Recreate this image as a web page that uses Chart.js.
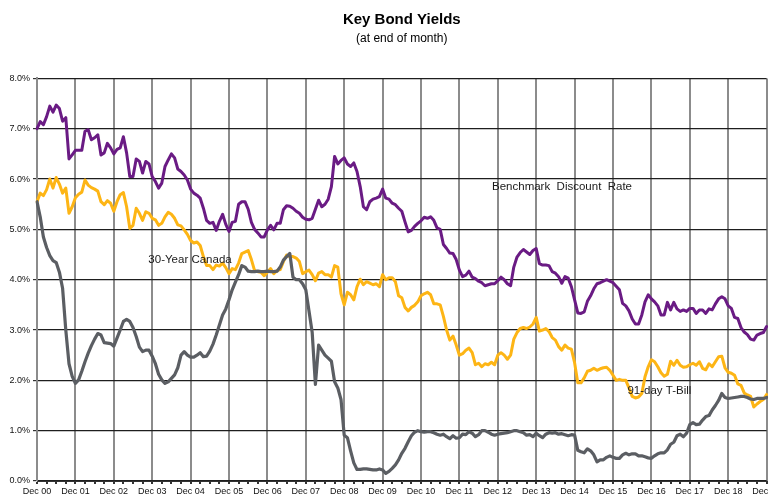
<!DOCTYPE html>
<html><head><meta charset="utf-8">
<script src="https://cdn.jsdelivr.net/npm/chart.js@4.4.1/dist/chart.umd.min.js"></script>
<style>html,body{margin:0;padding:0;background:#fff;}#wrap{width:770px;height:496px;}</style>
</head><body><div id="wrap"><canvas id="c" width="770" height="496"></canvas></div>
<script>
// Month-end observations, Dec 2000 .. Dec 2019 (one row per calendar year after Dec 00)
const yearTickLabels = ['Dec 00','Dec 01','Dec 02','Dec 03','Dec 04','Dec 05','Dec 06','Dec 07','Dec 08','Dec 09',
  'Dec 10','Dec 11','Dec 12','Dec 13','Dec 14','Dec 15','Dec 16','Dec 17','Dec 18','Dec 19'];
const monthNames = ['Jan','Feb','Mar','Apr','May','Jun','Jul','Aug','Sep','Oct','Nov','Dec'];
const yTickValues = [0,1,2,3,4,5,6,7,8];

const benchmark = [7.00,
  7.14,7.08,7.24,7.45,7.33,7.47,7.40,7.15,7.22,6.40,6.48,6.57,
  6.57,6.57,6.95,6.98,6.78,6.82,6.88,6.48,6.52,6.71,6.62,6.50,
  6.59,6.62,6.84,6.52,6.05,6.05,6.40,6.35,6.12,6.35,6.30,6.05,
  5.95,5.82,5.92,6.25,6.38,6.50,6.42,6.20,6.15,6.08,5.98,5.80,
  5.72,5.68,5.62,5.42,5.18,5.12,5.14,4.98,5.16,5.30,5.10,4.96,
  5.14,5.16,5.50,5.55,5.55,5.40,5.14,5.00,4.93,4.85,4.85,4.99,
  5.08,4.99,5.12,5.12,5.39,5.47,5.46,5.42,5.36,5.32,5.24,5.20,
  5.19,5.22,5.40,5.58,5.45,5.50,5.60,5.85,6.45,6.30,6.37,6.42,
  6.30,6.25,6.32,6.15,5.85,5.45,5.39,5.55,5.60,5.62,5.65,5.80,
  5.62,5.60,5.52,5.49,5.42,5.36,5.15,4.95,4.98,5.06,5.12,5.17,
  5.24,5.22,5.25,5.18,5.03,5.00,4.70,4.62,4.53,4.52,4.40,4.19,
  4.06,4.09,4.17,4.05,4.02,3.97,3.94,3.88,3.90,3.92,3.92,3.98,
  4.05,4.00,3.92,3.88,4.25,4.45,4.54,4.60,4.55,4.50,4.58,4.62,
  4.32,4.29,4.29,4.28,4.16,4.13,4.06,3.93,4.06,4.03,3.86,3.60,
  3.34,3.33,3.36,3.57,3.68,3.82,3.92,3.94,3.97,4.00,3.97,3.94,
  3.87,3.80,3.53,3.48,3.38,3.22,3.12,3.12,3.30,3.56,3.70,3.62,
  3.56,3.48,3.30,3.30,3.55,3.40,3.55,3.42,3.37,3.40,3.37,3.43,
  3.43,3.33,3.40,3.40,3.33,3.42,3.40,3.52,3.62,3.66,3.62,3.48,
  3.43,3.25,3.23,3.05,2.96,2.91,2.82,2.80,2.90,2.93,2.95,3.07];

const canada30 = [5.55,
  5.72,5.67,5.79,6.00,5.82,6.03,5.90,5.72,5.82,5.32,5.45,5.63,
  5.70,5.74,5.98,5.88,5.83,5.80,5.76,5.55,5.49,5.57,5.52,5.36,
  5.55,5.69,5.73,5.45,5.02,5.08,5.42,5.32,5.18,5.35,5.32,5.22,
  5.19,5.08,5.12,5.25,5.34,5.30,5.22,5.09,5.07,4.99,4.90,4.78,
  4.73,4.75,4.68,4.46,4.28,4.28,4.20,4.29,4.27,4.33,4.24,4.12,
  4.22,4.20,4.33,4.52,4.55,4.58,4.40,4.18,4.16,4.15,4.08,4.15,
  4.22,4.12,4.18,4.20,4.36,4.49,4.46,4.46,4.43,4.36,4.12,4.16,
  4.19,4.10,3.98,4.13,4.16,4.10,4.10,4.05,4.28,4.25,3.72,3.50,
  3.75,3.70,3.60,3.86,4.01,3.90,3.96,3.93,3.90,3.92,3.86,4.10,
  4.00,4.04,4.04,3.96,3.68,3.64,3.45,3.38,3.45,3.49,3.56,3.68,
  3.72,3.75,3.70,3.52,3.52,3.50,3.27,3.00,2.80,2.88,2.70,2.50,
  2.53,2.60,2.64,2.55,2.31,2.34,2.27,2.33,2.31,2.36,2.31,2.50,
  2.55,2.50,2.42,2.50,2.82,2.95,3.03,3.05,3.03,3.06,3.12,3.25,
  2.98,3.00,3.03,2.97,2.85,2.80,2.67,2.60,2.70,2.64,2.62,2.35,
  1.95,1.95,2.05,2.18,2.20,2.24,2.20,2.23,2.25,2.26,2.20,2.10,
  2.00,2.02,2.00,2.00,1.85,1.68,1.65,1.67,1.74,2.07,2.27,2.41,
  2.37,2.27,2.15,2.08,2.12,2.38,2.30,2.40,2.30,2.26,2.27,2.31,
  2.34,2.30,2.37,2.24,2.21,2.33,2.27,2.37,2.47,2.48,2.25,2.16,
  2.14,2.10,1.93,1.90,1.75,1.71,1.68,1.47,1.53,1.58,1.62,1.72];

const tbill91 = [5.55,
  5.25,4.85,4.64,4.48,4.38,4.34,4.15,3.83,3.00,2.33,2.08,1.94,
  2.01,2.18,2.37,2.54,2.69,2.82,2.93,2.90,2.75,2.74,2.73,2.68,
  2.84,3.00,3.17,3.21,3.17,3.05,2.87,2.66,2.57,2.60,2.60,2.48,
  2.33,2.12,2.01,1.94,1.97,2.04,2.11,2.25,2.50,2.57,2.50,2.46,
  2.46,2.50,2.55,2.47,2.48,2.58,2.72,2.90,3.10,3.30,3.42,3.60,
  3.80,3.95,4.10,4.28,4.25,4.17,4.16,4.16,4.17,4.16,4.16,4.17,
  4.16,4.16,4.17,4.25,4.39,4.46,4.52,4.05,4.00,4.00,3.92,3.80,
  3.38,2.95,1.92,2.70,2.60,2.50,2.44,2.38,1.97,1.85,1.62,0.91,
  0.86,0.60,0.36,0.23,0.23,0.24,0.24,0.23,0.22,0.22,0.24,0.22,
  0.15,0.19,0.25,0.32,0.42,0.55,0.65,0.78,0.90,0.97,1.00,0.98,
  0.97,0.98,0.98,0.96,0.93,0.91,0.93,0.88,0.84,0.90,0.85,0.86,
  0.93,0.92,0.98,0.95,0.88,0.92,1.00,1.00,0.97,0.93,0.91,0.93,
  0.94,0.95,0.96,0.98,1.00,1.00,0.98,0.96,0.91,0.92,0.88,0.95,
  0.90,0.86,0.93,0.96,0.95,0.96,0.93,0.94,0.92,0.90,0.92,0.91,
  0.61,0.58,0.56,0.64,0.60,0.52,0.38,0.42,0.42,0.47,0.50,0.47,
  0.45,0.45,0.52,0.55,0.52,0.54,0.54,0.50,0.50,0.48,0.46,0.45,
  0.50,0.54,0.56,0.56,0.62,0.73,0.77,0.90,0.93,0.88,0.95,1.12,
  1.16,1.12,1.13,1.21,1.28,1.30,1.41,1.50,1.60,1.74,1.66,1.64,
  1.65,1.66,1.67,1.68,1.68,1.66,1.63,1.62,1.64,1.64,1.64,1.66];

const seriesNames = ['Benchmark Discount Rate','30-Year Canada','91-day T-Bill'];
const seriesColors = ['#6a1b84','#fdb515','#5b5e63'];
// in-chart series labels, placed in data space (month index, yield %)
const seriesTags = [
  {text: 'Benchmark  Discount  Rate', index: 142.2, value: 5.85},
  {text: '30-Year Canada', index: 34.8, value: 4.40},
  {text: '91-day T-Bill', index: 184.5, value: 1.80}
];

// categories: month-end labels
const categories = [];
for (let i = 0; i < benchmark.length; i++) {
  const mIdx = (11 + i) % 12;
  const yr = 2000 + Math.floor((11 + i) / 12);
  categories.push(monthNames[mIdx] + ' ' + String(yr % 100).padStart(2, '0'));
}

const FONT = "'Liberation Sans', Arial, sans-serif";

const tagPlugin = {
  id: 'tags',
  afterDatasetsDraw(chart) {
    const {ctx, scales} = chart;
    ctx.save();
    ctx.font = '11.5px ' + FONT;
    ctx.fillStyle = '#1a1a1a';
    ctx.textAlign = 'left';
    ctx.textBaseline = 'middle';
    seriesTags.forEach(t => {
      ctx.fillText(t.text, scales.x.getPixelForValue(t.index), scales.y.getPixelForValue(t.value));
    });
    ctx.restore();
  }
};

new Chart(document.getElementById('c'), {
  type: 'line',
  data: {
    labels: categories,
    datasets: [
      {label: seriesNames[2], data: tbill91, borderColor: seriesColors[2], borderWidth: 3.2, order: 0},
      {label: seriesNames[1], data: canada30, borderColor: seriesColors[1], borderWidth: 3, order: 1},
      {label: seriesNames[0], data: benchmark, borderColor: seriesColors[0], borderWidth: 3, order: 2}
    ]
  },
  options: {
    responsive: false,
    devicePixelRatio: 1,
    animation: false,
    elements: {
      point: {radius: 0, hoverRadius: 0},
      line: {tension: 0, borderJoinStyle: 'round', borderCapStyle: 'round', fill: false}
    },
    layout: {padding: {left: 0, right: 3.4, top: 0, bottom: 0}},
    plugins: {
      legend: {display: false},
      tooltip: {enabled: false},
      title: {
        display: true, text: 'Key Bond Yields', color: '#000', fullSize: false,
        font: {family: FONT, size: 15, weight: 'bold'}, padding: {top: 11, bottom: 0}
      },
      subtitle: {
        display: true, text: '(at end of month)', color: '#000', fullSize: false,
        font: {family: FONT, size: 12}, padding: {top: 2, bottom: 33}
      }
    },
    scales: {
      x: {
        type: 'category',
        offset: false,
        grid: {
          drawOnChartArea: true,
          color: c => (c.index % 12 === 0 ? '#8c8c8c' : 'rgba(0,0,0,0)'),
          lineWidth: 2,
          tickColor: c => (c.index % 3 === 0 ? '#333' : 'rgba(0,0,0,0)'),
          tickLength: 3
        },
        border: {color: '#333', width: 1},
        ticks: {
          autoSkip: false, maxRotation: 0, minRotation: 0, padding: 2,
          color: '#111', font: {family: FONT, size: 9},
          callback: (v, i) => (i % 12 === 0 ? yearTickLabels[i / 12] : '')
        },
        afterFit(s) { s.height = 15; s.paddingLeft = 0; s.paddingRight = 0; }
      },
      y: {
        min: 0, max: 8,
        afterBuildTicks(s) { s.ticks = yTickValues.map(v => ({value: v})); },
        grid: {color: '#1e1e1e', lineWidth: 1.2, tickColor: '#333', tickLength: 4},
        border: {color: '#8c8c8c', width: 2},
        ticks: {
          padding: 3, color: '#111', font: {family: FONT, size: 9},
          callback: v => v.toFixed(1) + '%'
        },
        afterFit(s) { s.width = 37; }
      }
    }
  },
  plugins: [tagPlugin]
});
</script>
</body></html>
